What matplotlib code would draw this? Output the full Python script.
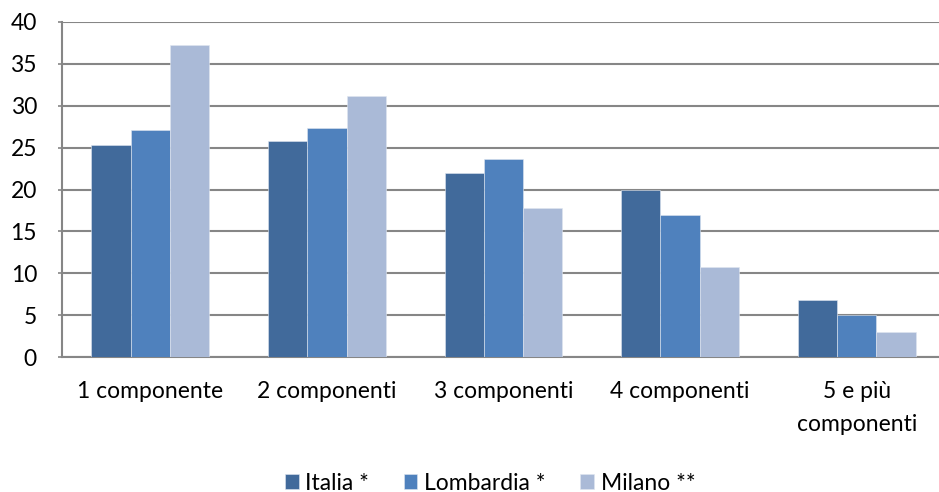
import matplotlib.pyplot as plt
import numpy as np

categories = ['1 componente', '2 componenti', '3 componenti', '4 componenti', '5 e più\ncomponenti']
italia = [25.3, 25.8, 22.0, 20.0, 6.8]
lombardia = [27.1, 27.3, 23.7, 17.0, 5.0]
milano = [37.3, 31.2, 17.8, 10.8, 3.0]
series_names = ['Italia *', 'Lombardia *', 'Milano **']
colors = ['#416A9B', '#4F81BD', '#AABAD7']

plt.rcParams['font.family'] = ['Lato', 'DejaVu Sans']
fs = 16.5

fig = plt.figure(figsize=(9.39, 4.92), dpi=100)
ax = fig.add_axes([62 / 939, 1 - 357 / 492, 883 / 939, 335 / 492])

x = np.arange(len(categories))
w = 1 / 4.5
for i, (vals, name, col) in enumerate(zip([italia, lombardia, milano], series_names, colors)):
    ax.bar(x + (i - 1) * w, vals, width=w, color=col, label=name,
           edgecolor='#dfe6f0', linewidth=0.4, zorder=3)

ax.set_xlim(-0.5, len(categories) - 0.5)
ax.set_ylim(0, 40)
ax.set_yticks(range(0, 41, 5))
ax.yaxis.grid(True, color='#868686', linewidth=1.5, zorder=0)
ax.set_xticks(x)
ax.set_xticklabels(categories, fontsize=fs, linespacing=1.75)
ax.tick_params(axis='x', length=0, pad=17)
ax.tick_params(axis='y', length=3, width=1.2, color='#868686', labelsize=fs, pad=15)

for side in ['top', 'right']:
    ax.spines[side].set_visible(False)
for side in ['left', 'bottom']:
    ax.spines[side].set_color('#868686')
    ax.spines[side].set_linewidth(1.5)

fig.legend(loc='lower center', bbox_to_anchor=(0.522, -0.045), ncol=3, frameon=False,
           fontsize=fs, handlelength=0.6, handleheight=0.6, handletextpad=0.3,
           columnspacing=1.5)

fig.savefig('out.png', dpi=100)
